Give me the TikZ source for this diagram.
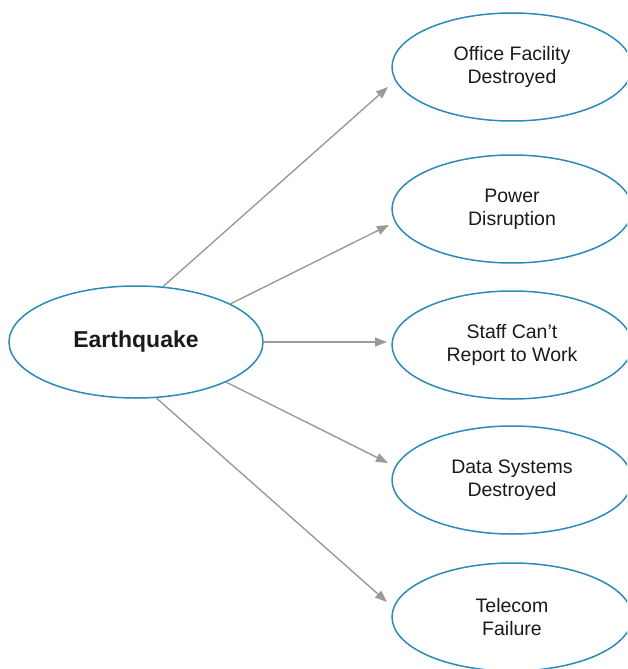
\documentclass[tikz,border=0pt]{standalone}
\usepackage{fontspec}
\setmainfont{Liberation Sans}
\usetikzlibrary{shapes.geometric,arrows.meta}
\definecolor{ringblue}{HTML}{2A8AB8}
\definecolor{arrowgray}{HTML}{9A9A9A}
\definecolor{txt}{HTML}{1A1A1A}
\begin{document}
\begin{tikzpicture}[x=1pt,y=-1pt,
  effect/.style={ellipse,draw=ringblue,line width=1.5pt,minimum width=240pt,minimum height=108pt,inner sep=0pt,align=center,text=txt,font=\fontsize{19.5}{23}\selectfont},
  cause/.style={ellipse,draw=ringblue,line width=1.5pt,minimum width=254pt,minimum height=112pt,inner sep=0pt,text=txt,font=\fontsize{23}{27}\selectfont\bfseries},
  link/.style={draw=arrowgray,line width=1.4pt,-{Triangle[length=12pt,width=9pt]}}]
\clip (0,0) rectangle (627,669);
\useasboundingbox (0,0) rectangle (627,669);
\node[cause] (eq) at (136,342) {Earthquake};
\node[effect] (office) at (512,67) {Office Facility\\Destroyed};
\node[effect] (power) at (512,209) {Power\\Disruption};
\node[effect] (staff) at (512,345) {Staff Can't\\Report to Work};
\node[effect] (data) at (512,480) {Data Systems\\Destroyed};
\node[effect] (tele) at (512,617) {Telecom\\Failure};
\coordinate (t1) at (388,87);
\coordinate (t2) at (389,225);
\coordinate (t3) at (387,342);
\coordinate (t4) at (388,463);
\coordinate (t5) at (387,602);
\draw[link] (eq.64.7) -- (t1);
\draw[link] (eq.22) -- (t2);
\draw[link] (eq.east) -- (t3);
\draw[link] (eq.-24.3) -- (t4);
\draw[link] (eq.-70) -- (t5);
\end{tikzpicture}
\end{document}
